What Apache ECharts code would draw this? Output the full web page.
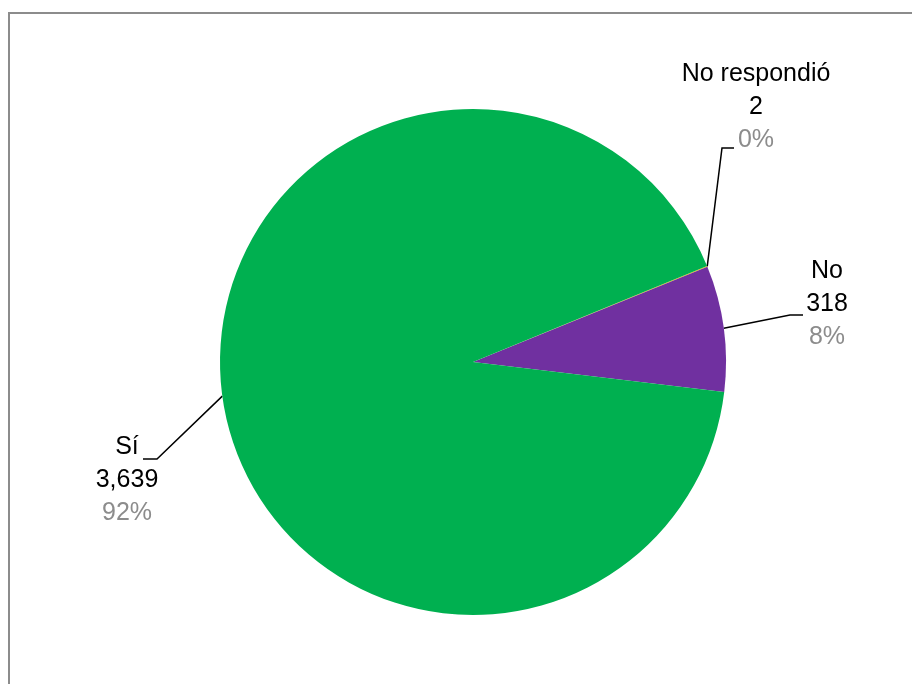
<!DOCTYPE html>
<html>
<head>
<meta charset="utf-8">
<script src="https://cdn.jsdelivr.net/npm/echarts@6/dist/echarts.min.js"></script>
<style>
  html, body { margin: 0; padding: 0; background: #fff; }
  #chart { width: 912px; height: 684px; }
</style>
</head>
<body>
<div id="chart"></div>
<script>
// slices, clockwise from the top of the "No" slice
const categories = ['No respondió', 'No', 'Sí'];
const values = [2, 318, 3639];
const colors = ['#ffc000', '#7030a0', '#00b050'];

// where each label block sits (centre), by slice
const labelSpots = [
  { x: 756, y: 107 },
  { x: 827, y: 304 },
  { x: 127, y: 480 }
];
// leader line end relative to the label centre, and the short elbow
const leaderEnds = [
  { dx: -22, dy: 41, elbow: -12 },
  { dx: -24, dy: 11, elbow: -13 },
  { dx: 16, dy: -21, elbow: 14 }
];

const chart = echarts.init(document.getElementById('chart'));
const fontFamily = '"Liberation Sans", Arial, sans-serif';

const pieData = categories.map((name, i) => ({
  name,
  value: values[i],
  itemStyle: { color: colors[i] }
}));

const option = {
  animation: false,
  backgroundColor: '#fff',
  graphic: [{
    type: 'rect',
    shape: { x: 9, y: 13, width: 1000, height: 1000 },
    style: { fill: 'none', stroke: '#8c8c8c', lineWidth: 2 },
    silent: true
  }],
  series: [{
    type: 'pie',
    center: [473, 362],
    radius: 253,
    startAngle: 22.3,
    clockwise: true,
    minAngle: 0,
    avoidLabelOverlap: false,
    data: pieData,
    itemStyle: { borderWidth: 0 },
    label: {
      show: true,
      position: 'outside',
      fontFamily,
      fontSize: 25,
      lineHeight: 33,
      color: '#000',
      align: 'center',
      formatter: p => `${p.name}\n${p.value.toLocaleString('en-US')}\n{pct|${Math.round(p.percent)}%}`,
      rich: {
        pct: { fontFamily, fontSize: 25, lineHeight: 33, color: '#8c8c8c' }
      }
    },
    labelLine: {
      show: true,
      length: 40,
      length2: 14,
      lineStyle: { color: '#000', width: 1.5 }
    },
    labelLayout: params => {
      const i = params.dataIndex;
      const spot = labelSpots[i];
      const lead = leaderEnds[i];
      const start = params.labelLinePoints ? params.labelLinePoints[0] : [spot.x, spot.y];
      const end = [spot.x + lead.dx, spot.y + lead.dy];
      const turn = [end[0] + lead.elbow, end[1]];
      return {
        x: spot.x,
        y: spot.y,
        align: 'center',
        verticalAlign: 'middle',
        labelLinePoints: [start, turn, end]
      };
    }
  }]
};

chart.setOption(option);
</script>
</body>
</html>
